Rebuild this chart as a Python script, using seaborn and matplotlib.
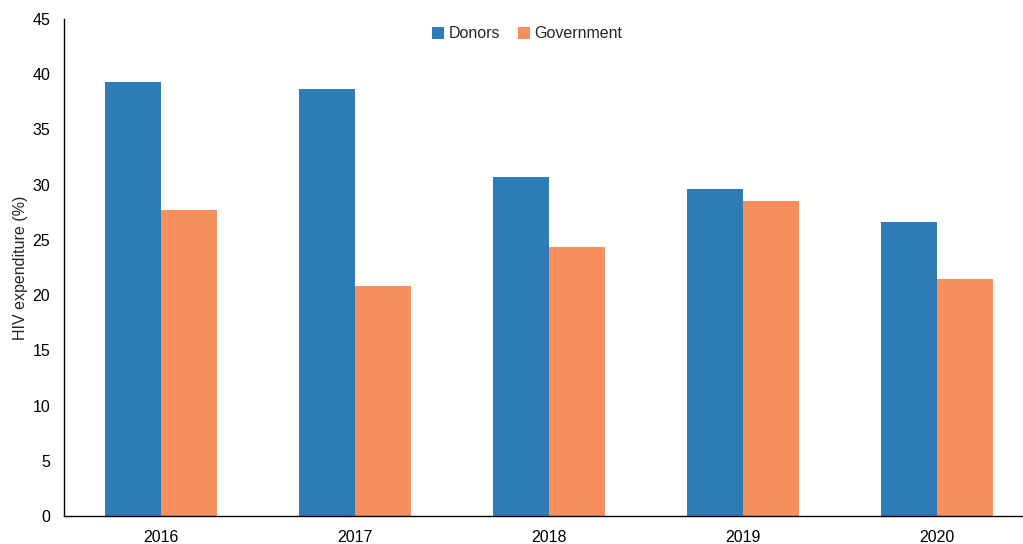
import matplotlib
matplotlib.use("Agg")
import matplotlib.pyplot as plt
import seaborn as sns
import pandas as pd

years = ["2016", "2017", "2018", "2019", "2020"]
donors = [39.3, 38.7, 30.7, 29.6, 26.6]
government = [27.7, 20.8, 24.4, 28.5, 21.5]
series_names = ["Donors", "Government"]
colors = ["#2E7CB6", "#F78F5C"]

df = pd.DataFrame({
    "Year": years * 2,
    "Value": donors + government,
    "Source": [series_names[0]] * len(years) + [series_names[1]] * len(years),
})

sns.set_theme(style="white")
plt.rcParams["font.family"] = ["Liberation Sans", "DejaVu Sans"]

fig = plt.figure(figsize=(10.23, 5.44), dpi=100)
ax = fig.add_axes([64 / 1023, 28 / 544, 970 / 1023, 497 / 544])

sns.barplot(data=df, x="Year", y="Value", hue="Source", palette=colors,
            width=0.58, saturation=1, ax=ax, legend=True, linewidth=0)

ax.set_ylim(0, 45)
ax.set_yticks(range(0, 46, 5))
ax.set_xlim(-0.5, 4.5)
ax.set_xlabel("")
ax.set_ylabel("HIV expenditure (%)", fontsize=11.5, labelpad=3)
ax.tick_params(axis="both", labelsize=11.5, length=0, colors="#000000")
ax.tick_params(axis="y", pad=10)
ax.tick_params(axis="x", pad=10)
for s in ["top", "right"]:
    ax.spines[s].set_visible(False)
for s in ["left", "bottom"]:
    ax.spines[s].set_color("#000000")
    ax.spines[s].set_linewidth(1.0)

leg = ax.legend(loc="center", bbox_to_anchor=(527 / 1023, 1 - 34 / 544),
                bbox_transform=fig.transFigure, ncol=2, frameon=False,
                fontsize=11.5, handlelength=0.75, handleheight=0.75,
                handletextpad=0.3, columnspacing=1.1)

fig.savefig("out.png", dpi=100)
